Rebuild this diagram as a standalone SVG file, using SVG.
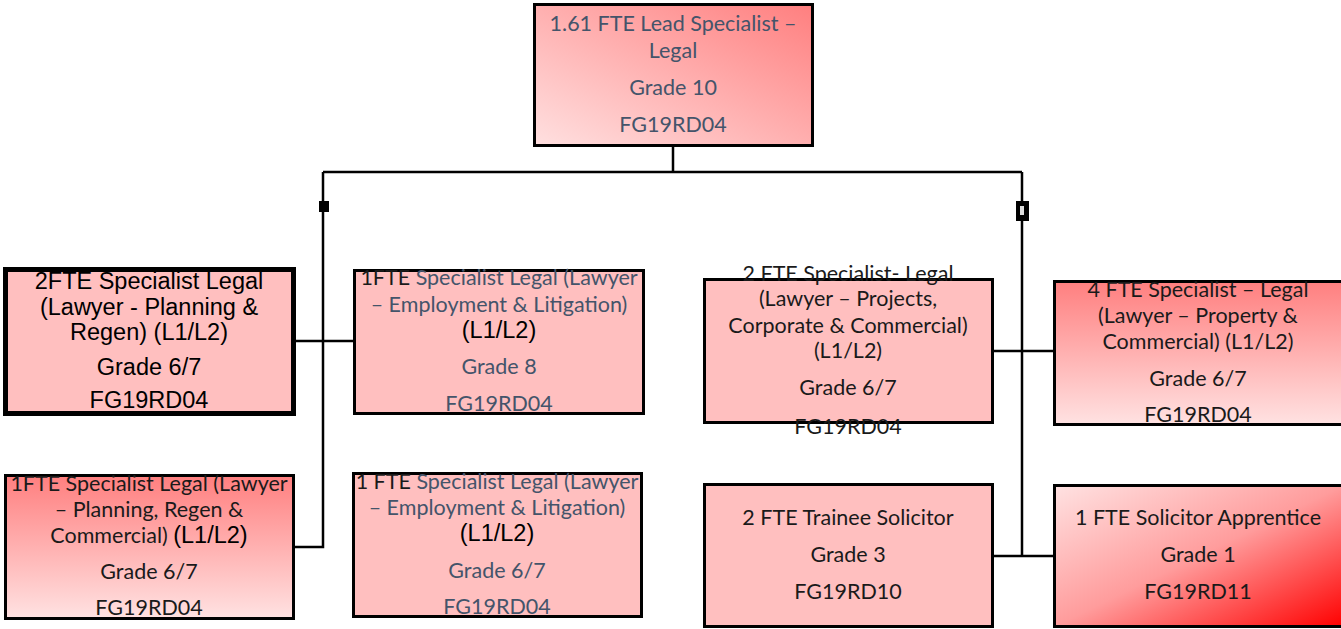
<svg xmlns="http://www.w3.org/2000/svg" width="1341" height="629" viewBox="0 0 1341 629">
<style>
.box{stroke:#000;stroke-width:3;fill:#ffbfbf}
.c{font-family:Lato,"Open Sans","Liberation Sans",sans-serif;font-size:21.5px;text-anchor:middle;fill:#1a1a1a}
.g{fill:#44546a}
.a{font-family:"Liberation Sans",Arial,sans-serif;font-size:23.5px;fill:#000}
.ac{font-family:"Liberation Sans",Arial,sans-serif;font-size:23.5px;text-anchor:middle;fill:#000}
.ln{stroke:#000;stroke-width:2.5;fill:none}
</style>
<defs>
<linearGradient id="gTop" x1="1" y1="0" x2="0" y2="1">
<stop offset="0" stop-color="#ff7f7f"/><stop offset="1" stop-color="#ffe0e0"/>
</linearGradient>
<linearGradient id="gV" x1="0" y1="0" x2="0" y2="1">
<stop offset="0" stop-color="#ff7f7f"/><stop offset="1" stop-color="#ffe2e2"/>
</linearGradient>
<linearGradient id="gDiag" x1="0" y1="0" x2="1" y2="1">
<stop offset="0" stop-color="#ffe2e2"/><stop offset="0.5" stop-color="#ff9c9c"/><stop offset="1" stop-color="#ff0000"/>
</linearGradient>
</defs>
<rect width="1341" height="629" fill="#fff"/>
<g id="connectors">
<path class="ln" d="M673 146V172M323 172H1022M323 172V547H293M293 341H354M1022 172V556H993M993 351H1053M1022 556H1053"/>
<rect x="319" y="201" width="10" height="11" fill="#000"/>
<rect x="1016" y="201" width="13" height="20" fill="#000"/>
<rect x="1020" y="206" width="4" height="9" fill="#ddd"/>
</g>
<g id="n-lead">
<rect class="box" x="534.5" y="4.5" width="278" height="141" style="fill:url(#gTop)"/>
<text class="c g" x="673" y="31">1.61 FTE Lead Specialist –</text>
<text class="c g" x="673" y="58">Legal</text>
<text class="c g" x="673" y="95">Grade 10</text>
<text class="c g" x="673" y="132">FG19RD04</text>
</g>
<g id="n-planning-regen">
<rect class="box" x="5.5" y="269.5" width="288" height="144" style="stroke-width:5"/>
<text class="ac" x="149" y="289">2FTE Specialist Legal</text>
<text class="ac" x="149" y="315">(Lawyer - Planning &amp;</text>
<text class="ac" x="149" y="340">Regen) (L1/L2)</text>
<text class="ac" x="149" y="375">Grade 6/7</text>
<text class="ac" x="149" y="408">FG19RD04</text>
</g>
<g id="n-employment-1">
<rect class="box" x="354.5" y="270.5" width="289" height="143"/>
<text class="c" x="499" y="285"><tspan>1FTE </tspan><tspan class="g">Specialist Legal (Lawyer</tspan></text>
<text class="c g" x="499" y="312">– Employment &amp; Litigation)</text>
<text class="ac" x="499" y="338">(L1/L2)</text>
<text class="c g" x="499" y="374">Grade 8</text>
<text class="c g" x="499" y="411">FG19RD04</text>
</g>
<g id="n-planning-regen-commercial">
<rect class="box" x="5.5" y="475.5" width="288" height="143" style="fill:url(#gV)"/>
<text class="c" x="149" y="491">1FTE Specialist Legal (Lawyer</text>
<text class="c" x="149" y="517">– Planning, Regen &amp;</text>
<text class="c" x="149" y="543">Commercial) <tspan class="a">(L1/L2)</tspan></text>
<text class="c" x="149" y="579">Grade 6/7</text>
<text class="c" x="149" y="615">FG19RD04</text>
</g>
<g id="n-employment-2">
<rect class="box" x="353.5" y="473.5" width="288" height="143"/>
<text class="c" x="497" y="489"><tspan>1 FTE </tspan><tspan class="g">Specialist Legal (Lawyer</tspan></text>
<text class="c g" x="497" y="515">– Employment &amp; Litigation)</text>
<text class="ac" x="497" y="541">(L1/L2)</text>
<text class="c g" x="497" y="578">Grade 6/7</text>
<text class="c g" x="497" y="614">FG19RD04</text>
</g>
<g id="n-projects">
<rect class="box" x="704.5" y="279.5" width="288" height="143"/>
<text class="c" x="848" y="281">2 FTE Specialist- Legal</text>
<text class="c" x="848" y="306">(Lawyer – Projects,</text>
<text class="c" x="848" y="333">Corporate &amp; Commercial)</text>
<text class="c" x="848" y="358">(L1/L2)</text>
<text class="c" x="848" y="395">Grade 6/7</text>
<text class="c" x="848" y="434">FG19RD04</text>
</g>
<g id="n-property">
<rect class="box" x="1054.5" y="281.5" width="289" height="143" style="fill:url(#gV)"/>
<text class="c" x="1198" y="297">4 FTE Specialist – Legal</text>
<text class="c" x="1198" y="323">(Lawyer – Property &amp;</text>
<text class="c" x="1198" y="349">Commercial) (L1/L2)</text>
<text class="c" x="1198" y="386">Grade 6/7</text>
<text class="c" x="1198" y="422">FG19RD04</text>
</g>
<g id="n-trainee">
<rect class="box" x="704.5" y="484.5" width="288" height="142"/>
<text class="c" x="848" y="525">2 FTE Trainee Solicitor</text>
<text class="c" x="848" y="562">Grade 3</text>
<text class="c" x="848" y="599">FG19RD10</text>
</g>
<g id="n-apprentice">
<rect class="box" x="1054.5" y="485.5" width="289" height="141" style="fill:url(#gDiag)"/>
<text class="c" x="1198" y="525">1 FTE Solicitor Apprentice</text>
<text class="c" x="1198" y="562">Grade 1</text>
<text class="c" x="1198" y="599">FG19RD11</text>
</g>
</svg>
